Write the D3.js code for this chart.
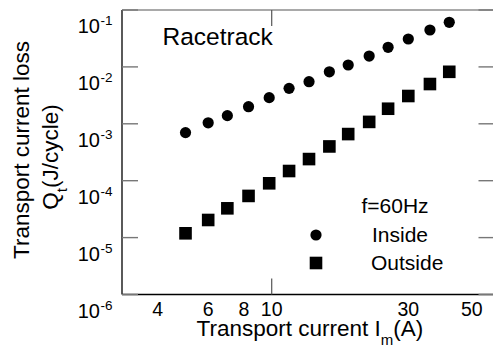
<!DOCTYPE html>
<html><head><meta charset="utf-8">
<script src="https://cdn.jsdelivr.net/npm/d3@7"></script>
<style>body{margin:0;background:#fff}svg{display:block;font-family:"Liberation Sans",Arial,sans-serif}</style>
</head><body>
<svg id="c" width="493" height="346"></svg>
<script>
const currents = [5, 6, 7, 8.3, 9.8, 11.5, 13.5, 15.9, 18.5, 21.9, 25.5, 30, 35.7, 41.7];
const insideLoss = [7.0e-4, 1.04e-3, 1.39e-3, 2.0e-3, 2.88e-3, 4.2e-3, 5.5e-3, 8.2e-3, 1.08e-2, 1.55e-2, 2.21e-2, 3.09e-2, 4.45e-2, 6.08e-2];
const outsideLoss = [1.19e-5, 2.04e-5, 3.27e-5, 5.4e-5, 9.0e-5, 1.48e-4, 2.4e-4, 4.0e-4, 6.6e-4, 1.08e-3, 1.84e-3, 3.08e-3, 5.0e-3, 8.2e-3];
const xTickLabels = [4, 6, 8, 10, 30, 50];
const xMajorTicks = [10];
const yTickExps = [-1, -2, -3, -4, -5, -6];

const svg = d3.select("#c");
const L = 122, R = 494.5, T = 10, B = 294.5;
const x = d3.scaleLog().domain([3, 60]).range([L, R]);
const y = d3.scaleLog().domain([1e-6, 1e-1]).range([B, T]);

// frame
svg.append("line").attr("x1", L).attr("x2", R).attr("y1", T).attr("y2", T).attr("stroke", "#555").attr("stroke-width", 1.2);
svg.append("line").attr("x1", R).attr("x2", R).attr("y1", T).attr("y2", B).attr("stroke", "#555").attr("stroke-width", 1.2);
svg.append("line").attr("x1", L).attr("x2", L).attr("y1", T).attr("y2", B).attr("stroke", "#000").attr("stroke-width", 1.3);
svg.append("line").attr("x1", L).attr("x2", R).attr("y1", B).attr("y2", B).attr("stroke", "#000").attr("stroke-width", 1.3);

const tl = 16;
// y ticks left and right
yTickExps.forEach(e => {
  const yy = y(Math.pow(10, e));
  svg.append("line").attr("x1", L).attr("x2", L + tl).attr("y1", yy).attr("y2", yy).attr("stroke", "#777").attr("stroke-width", 1.4);
  svg.append("line").attr("x1", R - tl).attr("x2", R).attr("y1", yy).attr("y2", yy).attr("stroke", "#777").attr("stroke-width", 1.4);
  svg.append("text").attr("x", 100).attr("y", yy + 23).attr("text-anchor", "end").attr("font-size", 20).text("10");
  svg.append("text").attr("x", 100.5).attr("y", yy + 15).attr("font-size", 13.5).text(String(e));
});
// x ticks bottom and top
xMajorTicks.forEach(v => {
  const xx = x(v);
  svg.append("line").attr("x1", xx).attr("x2", xx).attr("y1", B).attr("y2", B - tl).attr("stroke", "#555").attr("stroke-width", 1.2);
  svg.append("line").attr("x1", xx).attr("x2", xx).attr("y1", T).attr("y2", T + tl).attr("stroke", "#555").attr("stroke-width", 1.2);
});
xTickLabels.forEach(v => {
  svg.append("text").attr("x", x(v)).attr("y", 315.5).attr("text-anchor", "middle").attr("font-size", 19.5).text(v);
});

// axis titles
const xt = svg.append("text").attr("x", 196.5).attr("y", 335.5).attr("font-size", 22.5);
xt.append("tspan").text("Transport current I");
xt.append("tspan").attr("font-size", 15).attr("dy", 9).text("m");
xt.append("tspan").attr("dy", -9).text("(A)");

svg.append("text").attr("transform", "translate(28.5,150) rotate(-90)").attr("text-anchor", "middle").attr("font-size", 22.5).text("Transport current loss");
const yt2 = svg.append("text").attr("transform", "translate(58,157) rotate(-90)").attr("text-anchor", "middle").attr("font-size", 22.5);
yt2.append("tspan").text("Q");
yt2.append("tspan").attr("font-size", 15).attr("dy", 9).text("t");
yt2.append("tspan").attr("dy", -9).text("(J/cycle)");

svg.append("text").attr("x", 162.5).attr("y", 44.5).attr("font-size", 24.5).text("Racetrack");

// data
svg.selectAll("circle.in").data(currents).enter().append("circle").attr("class", "in")
  .attr("cx", d => x(d)).attr("cy", (d, i) => y(insideLoss[i])).attr("r", 5.6).attr("fill", "#000");
const s = 12.6;
svg.selectAll("rect.out").data(currents).enter().append("rect").attr("class", "out")
  .attr("x", d => x(d) - s / 2).attr("y", (d, i) => y(outsideLoss[i]) - s / 2).attr("width", s).attr("height", s).attr("fill", "#000");

// legend
svg.append("text").attr("x", 361.5).attr("y", 213.3).attr("font-size", 21).text("f=60Hz");
svg.append("circle").attr("cx", 316).attr("cy", 235).attr("r", 5.6).attr("fill", "#000");
svg.append("text").attr("x", 372).attr("y", 241.7).attr("font-size", 21).text("Inside");
svg.append("rect").attr("x", 316 - s / 2).attr("y", 263 - s / 2).attr("width", s).attr("height", s).attr("fill", "#000");
svg.append("text").attr("x", 371).attr("y", 269.7).attr("font-size", 21).text("Outside");
</script>
</body></html>
